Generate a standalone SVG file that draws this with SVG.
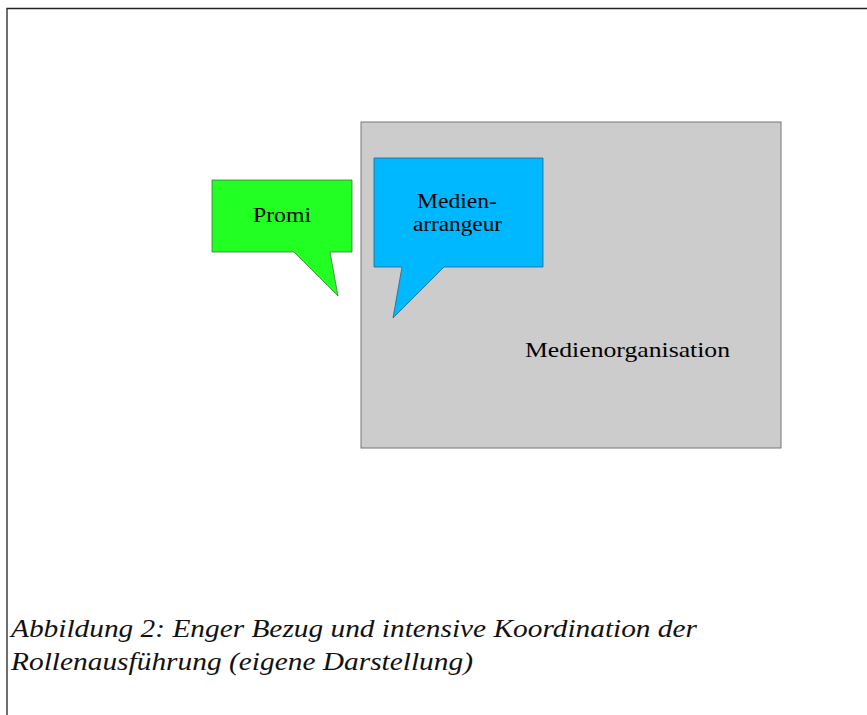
<svg xmlns="http://www.w3.org/2000/svg" width="867" height="715" viewBox="0 0 867 715">
<style>
.t{font-family:"Liberation Serif","Times New Roman",serif;fill:#000}
.cap{font-family:"Liberation Serif","Times New Roman",serif;font-style:italic;font-size:26px;fill:#111}
</style>
<rect width="867" height="715" fill="#fff"/>
<path d="M7,715 V8.5 H867" fill="none" stroke="#222" stroke-width="1.3"/>
<g id="medienorganisation">
<rect x="361" y="122" width="420" height="326" fill="#cccccc" stroke="#777" stroke-width="1"/>
<text class="t" x="525" y="357" font-size="22" textLength="205" lengthAdjust="spacingAndGlyphs">Medienorganisation</text>
</g>
<g id="promi">
<path d="M212,180 H352 V252 H330 L338,296 L294,252 H212 Z" fill="#22ff22" stroke="#3a7a3a" stroke-width="0.8"/>
<text class="t" x="253" y="222" font-size="20" textLength="58" lengthAdjust="spacingAndGlyphs">Promi</text>
</g>
<g id="medienarrangeur">
<path d="M374,158 H543 V267 H444 L393,318 L402,267 H374 Z" fill="#00b8ff" stroke="#35607a" stroke-width="0.8"/>
<text class="t" x="417" y="208" font-size="20" textLength="80" lengthAdjust="spacingAndGlyphs">Medien-</text>
<text class="t" x="413" y="231" font-size="20" textLength="89" lengthAdjust="spacingAndGlyphs">arrangeur</text>
</g>
<g id="connectors"></g>
<text class="cap" x="11" y="637" textLength="686" lengthAdjust="spacingAndGlyphs">Abbildung 2: Enger Bezug und intensive Koordination der</text>
<text class="cap" x="11" y="670" textLength="462" lengthAdjust="spacingAndGlyphs">Rollenausführung (eigene Darstellung)</text>
</svg>
